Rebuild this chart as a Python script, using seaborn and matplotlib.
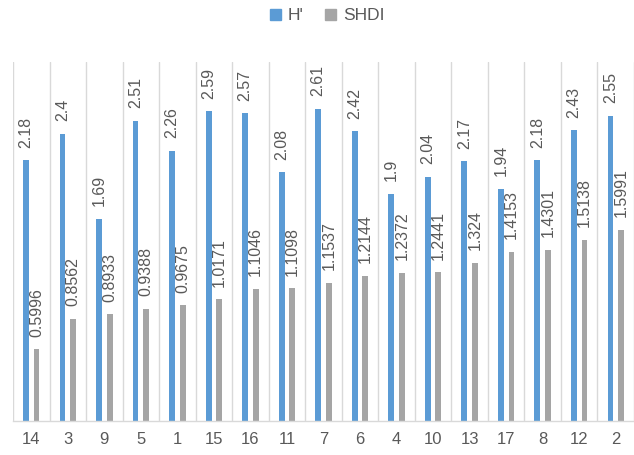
import matplotlib
matplotlib.use("Agg")
import matplotlib.pyplot as plt
import seaborn as sns
import pandas as pd

# Sample site labels in display order
sites = ["14", "3", "9", "5", "1", "15", "16", "11", "7", "6", "4", "10", "13", "17", "8", "12", "2"]
h_prime = [2.18, 2.4, 1.69, 2.51, 2.26, 2.59, 2.57, 2.08, 2.61, 2.42, 1.9, 2.04, 2.17, 1.94, 2.18, 2.43, 2.55]
shdi = [0.5996, 0.8562, 0.8933, 0.9388, 0.9675, 1.0171, 1.1046, 1.1098, 1.1537, 1.2144, 1.2372, 1.2441, 1.324, 1.4153, 1.4301, 1.5138, 1.5991]
series_names = ["H'", "SHDI"]

df = pd.concat([
    pd.DataFrame({"site": sites, "index": series_names[0], "value": h_prime}),
    pd.DataFrame({"site": sites, "index": series_names[1], "value": shdi}),
])

sns.set_theme(style="white")
plt.rcParams["font.family"] = ["Liberation Sans", "DejaVu Sans"]

text_color = "#595959"
grid_color = "#D9D9D9"
palette = {"H'": "#5B9BD5", "SHDI": "#A5A5A5"}

fig = plt.figure(figsize=(6.34, 4.55), dpi=100)
ax = fig.add_axes([13 / 634, 34 / 455, 621 / 634, 359 / 455])

sns.barplot(data=df, x="site", y="value", hue="index", order=sites,
            hue_order=series_names, palette=palette, width=0.58, gap=0.45,
            saturation=1, linewidth=0, ax=ax, legend=False)

for container in ax.containers:
    ax.bar_label(container, fmt="{:g}", rotation=90, padding=9,
                 fontsize=11.5, color=text_color)

ax.set_ylim(0, 3)
ax.set_xlim(-0.5, len(sites) - 0.5)
ax.set_xlabel("")
ax.set_ylabel("")
ax.set_yticks([])

# Vertical separators between categories
for i in range(len(sites) + 1):
    ax.axvline(i - 0.5, color=grid_color, lw=1, zorder=0)

for side in ["top", "right", "left"]:
    ax.spines[side].set_visible(False)
ax.spines["bottom"].set_color(grid_color)
ax.spines["bottom"].set_linewidth(1)
ax.tick_params(axis="x", length=0, pad=8, labelsize=12, colors=text_color)

handles = [plt.Rectangle((0, 0), 1, 1, color=palette[n]) for n in series_names]
fig.legend(handles, series_names, loc="center", bbox_to_anchor=(0.516, 0.965),
           ncol=2, frameon=False, fontsize=12.5, labelcolor=text_color,
           handlelength=0.65, handleheight=0.65, handletextpad=0.4,
           columnspacing=1.2)

fig.savefig("out.png", dpi=100)
